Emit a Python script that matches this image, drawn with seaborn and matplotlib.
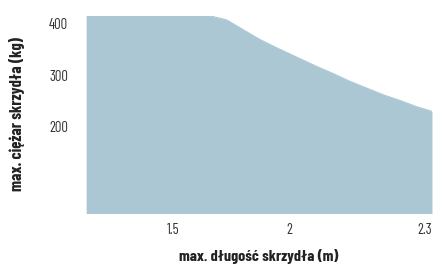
import numpy as np
import matplotlib
matplotlib.use("Agg")
import matplotlib.pyplot as plt
import seaborn as sns

# wing length (m) vs max wing weight (kg)
dlugosc = [1.13, 1.5, 1.60, 1.66, 1.732, 1.803, 1.875, 1.947, 2.009, 2.023,
           2.058, 2.093, 2.128, 2.163, 2.198, 2.233, 2.268, 2.3]
ciezar = [440, 440, 428, 415, 407, 388, 369, 353, 338, 332,
          317, 303, 288, 275, 262, 251, 239, 230]

x_ticks = [1.5, 2, 2.3]
x_labels = ["1.5", "2", "2.3"]
y_ticks = [200, 300, 400]
y_labels = ["200", "300", "400"]

# the original axis is not linear, so map metres through a piecewise scale
knots_m = [1.13, 1.5, 2.0, 2.3]
knots_pos = [0.0, 0.251, 0.587, 1.0]
fwd = lambda v: np.interp(v, knots_m, knots_pos)
inv = lambda v: np.interp(v, knots_pos, knots_m)

sns.set_theme(style="white")
plt.rcParams["font.family"] = ["Barlow Condensed", "DejaVu Sans"]

fill_col = "#abc7d4"

fig = plt.figure(figsize=(4.35, 2.69), dpi=100)
ax = fig.add_axes([0.198, 0.208, 0.795, 0.733])
ax.set_xscale("function", functions=(fwd, inv))

ax.fill_between(dlugosc, ciezar, 0, color=fill_col, linewidth=0)
sns.lineplot(x=dlugosc, y=ciezar, ax=ax, color=fill_col, linewidth=0.8)

ax.set_xlim(1.13, 2.3)
ax.set_ylim(33, 415)

ax.set_xticks(x_ticks)
ax.set_xticklabels(x_labels)
ax.set_yticks(y_ticks)
ax.set_yticklabels(y_labels)
ax.get_xticklabels()[-1].set_ha("right")

ax.tick_params(axis="both", length=0, labelsize=10.5, labelcolor="#333333")
ax.tick_params(axis="x", pad=7)
ax.tick_params(axis="y", pad=13)

for s in ax.spines.values():
    s.set_visible(False)

ax.set_xlabel("max. długość skrzydła (m)", fontsize=11.5, fontweight="bold",
              color="#222222", va="center")
ax.set_ylabel("max. ciężar skrzydła (kg)", fontsize=11.8, fontweight="bold",
              color="#222222", va="center")
ax.xaxis.set_label_coords(0.5, -0.222)
ax.yaxis.set_label_coords(-0.199, 0.5)

fig.savefig("out.png", dpi=100)
